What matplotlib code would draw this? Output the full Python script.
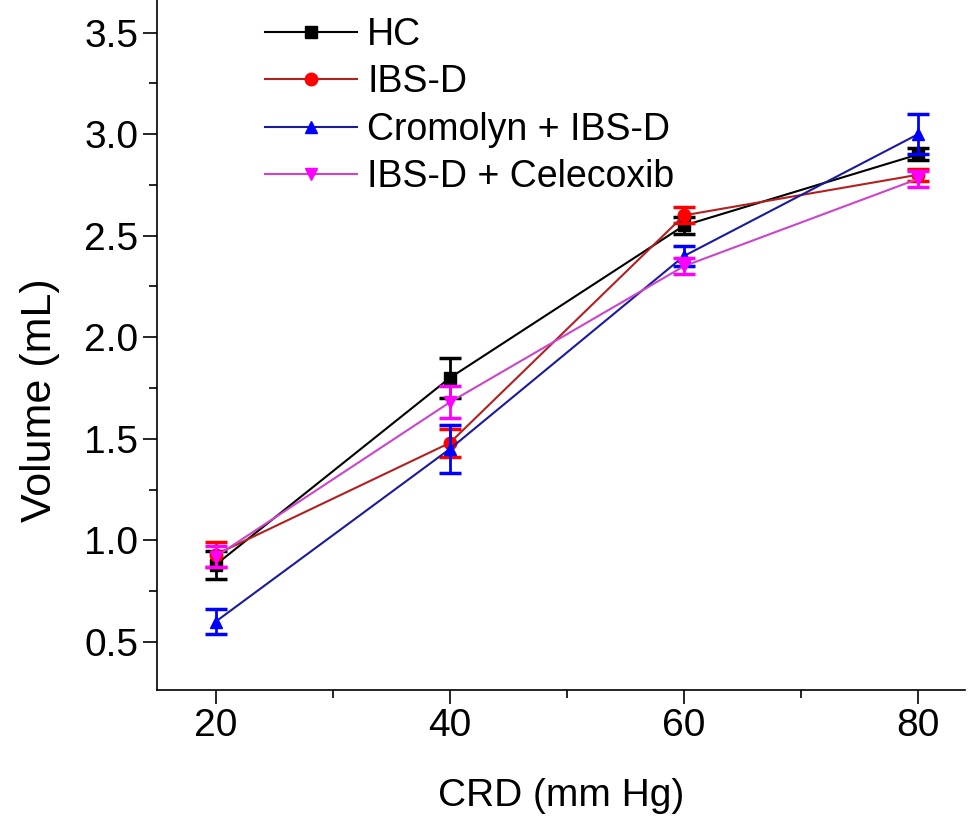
import numpy as np
import matplotlib
matplotlib.use("Agg")
import matplotlib.pyplot as plt
from matplotlib.ticker import MultipleLocator

plt.rcParams['font.family'] = ['Liberation Sans', 'DejaVu Sans']

# Data
crd = [20, 40, 60, 80]
labels = ["HC", "IBS-D", "Cromolyn + IBS-D", "IBS-D + Celecoxib"]
hc = [0.88, 1.80, 2.55, 2.90]
hc_err = [0.07, 0.10, 0.04, 0.03]
ibsd = [0.93, 1.48, 2.60, 2.80]
ibsd_err = [0.06, 0.07, 0.04, 0.03]
cromolyn = [0.60, 1.45, 2.40, 3.00]
cromolyn_err = [0.06, 0.12, 0.05, 0.10]
celecoxib = [0.92, 1.68, 2.35, 2.78]
celecoxib_err = [0.05, 0.08, 0.04, 0.04]

series = [hc, ibsd, cromolyn, celecoxib]
errors = [hc_err, ibsd_err, cromolyn_err, celecoxib_err]
line_colors = ["#000000", "#b22020", "#1a1a9e", "#cc44cc"]
marker_colors = ["#000000", "#ff0000", "#0000ff", "#ff00ff"]
markers = ["s", "o", "^", "v"]

fig = plt.figure(figsize=(9.7, 8.23), dpi=100)
ax = fig.add_axes([0.162, 0.162, 0.833, 0.838])

handles = []
for y, e, lc, mc, m, lab in zip(series, errors, line_colors, marker_colors, markers, labels):
    ax.errorbar(crd, y, yerr=e, fmt='none', ecolor=mc, elinewidth=2,
                capsize=8, capthick=2.5)
    h, = ax.plot(crd, y, color=lc, marker=m, markersize=9,
                 markerfacecolor=mc, markeredgecolor=mc, linewidth=1.5, label=lab)
    handles.append(h)

ax.set_xlim(15, 84)
ax.set_ylim(0.265, 3.66)
ax.xaxis.set_major_locator(MultipleLocator(20))
ax.xaxis.set_minor_locator(MultipleLocator(10))
ax.yaxis.set_major_locator(MultipleLocator(0.5))
ax.yaxis.set_minor_locator(MultipleLocator(0.25))
ax.yaxis.set_major_formatter(plt.FormatStrFormatter('%.1f'))
ax.tick_params(which='major', length=10, width=1.2, labelsize=28, direction='out')
ax.tick_params(which='minor', length=6, width=1.2, direction='out')
for s in ['top', 'right']:
    ax.spines[s].set_visible(False)
for s in ['left', 'bottom']:
    ax.spines[s].set_linewidth(1.2)

ax.set_xlabel("CRD (mm Hg)", fontsize=28, labelpad=24)
ax.set_ylabel("Volume (mL)", fontsize=31)
ax.yaxis.set_label_coords(-0.12, 0.42)

leg = ax.legend(handles=handles, loc='upper left', bbox_to_anchor=(0.092, 1.024),
                frameon=False, fontsize=27, handlelength=2.45,
                handletextpad=0.27, labelspacing=0.3)

fig.savefig("out.png", dpi=100)
